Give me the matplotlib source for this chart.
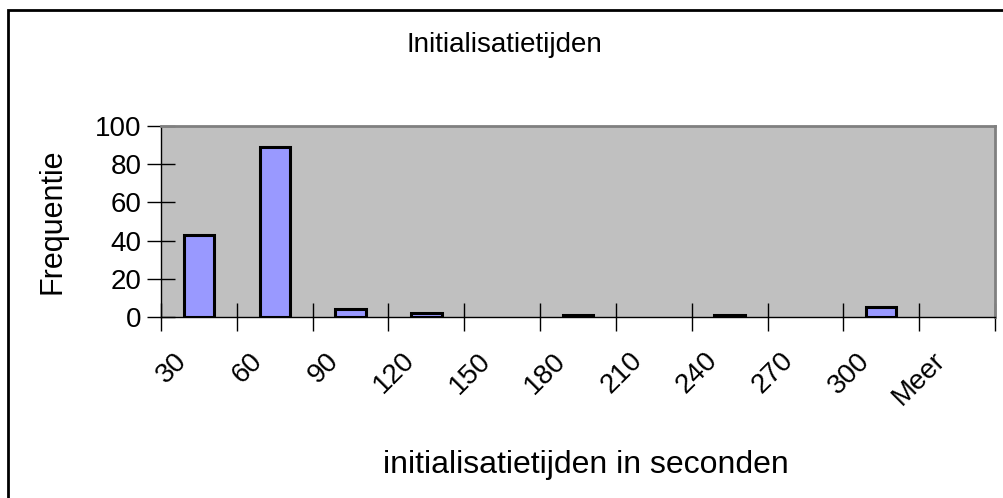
import matplotlib.pyplot as plt
from matplotlib.patches import Rectangle

plt.rcParams['font.family'] = ['Liberation Sans', 'DejaVu Sans']

categories = ['30', '60', '90', '120', '150', '180', '210', '240', '270', '300', 'Meer']
frequencies = [43, 89, 4, 2, 0, 1, 0, 1, 0, 5, 0]

fig = plt.figure(figsize=(10.04, 4.98), dpi=100)
ax = fig.add_axes([161/1004, 1-317/498, (995-161)/1004, (317-126)/498])

x = range(len(categories))
lw = [2.2 if f > 0 else 0 for f in frequencies]
ax.bar(x, frequencies, width=0.4, color='#9999FF', edgecolor='black', linewidth=lw, zorder=3)

ax.set_facecolor('#C0C0C0')
ax.set_xlim(-0.5, len(categories) - 0.5)
ax.set_ylim(0, 100)
ax.set_yticks(range(0, 101, 20))
ax.set_yticklabels([str(v) for v in range(0, 101, 20)], fontsize=20)
ax.set_xticks([i - 0.5 for i in range(len(categories) + 1)])
ax.set_xticklabels([])
ax.tick_params(axis='both', direction='inout', length=20, width=1, color='black')
ax.tick_params(axis='y', pad=4)
for i, lab in enumerate(categories):
    ax.annotate(lab, xy=(i, 0), xycoords=('data', 'axes fraction'),
                xytext=(-18, -22), textcoords='offset points',
                rotation=45, rotation_mode='anchor', ha='right', va='top', fontsize=20)

for s in ['top', 'right']:
    ax.spines[s].set_color('#808080')
    ax.spines[s].set_linewidth(2)
for s in ['left', 'bottom']:
    ax.spines[s].set_color('black')
    ax.spines[s].set_linewidth(1)

fig.text(52/1004, 1 - 221/498, 'Frequentie', rotation=90, ha='center', va='center', fontsize=22)
fig.text(504/1004, 1 - 45/498, 'Initialisatietijden', ha='center', va='center', fontsize=20)
fig.text(586/1004, 1 - 465/498, 'initialisatietijden in seconden', ha='center', va='center', fontsize=23)

fig.patches.append(Rectangle((8/1004, -0.1), 1.2, 1 - 10/498 + 0.1, transform=fig.transFigure,
                             fill=False, edgecolor='black', linewidth=2))

fig.savefig('out.png', dpi=100)
